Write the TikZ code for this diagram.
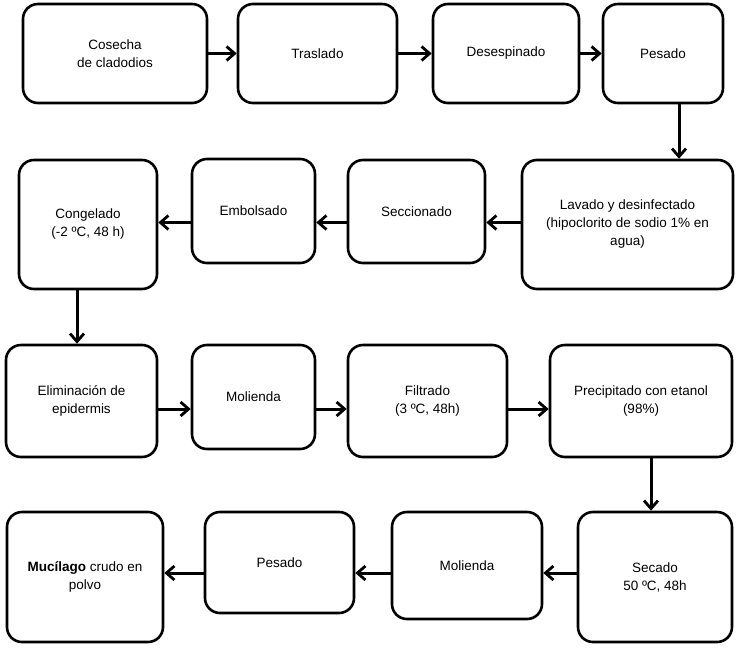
\documentclass[tikz,border=0pt]{standalone}
\usepackage{fontspec}
\setmainfont{Liberation Sans}
\usepackage{tikz}
\usetikzlibrary{arrows.meta,positioning,calc}

\begin{document}
\begin{tikzpicture}[
  x=1pt, y=-1pt,
  stepbox/.style={rectangle, draw=black, rounded corners=15pt, line width=2.6pt, align=center, inner sep=2pt, font=\fontsize{13.5}{18}\selectfont},
  flowarrow/.style={-{Straight Barb[length=8pt,width=14pt,line width=2.8pt]}, line width=3pt}
]
\useasboundingbox (0,0) rectangle (741,648);

% Row 1: left to right
\node[stepbox, minimum width=184pt, minimum height=99pt] (cosecha) at (115, 53.5) {Cosecha\\de cladodios};
\node[stepbox, minimum width=159pt, minimum height=99pt] (traslado) at (317.5, 53.5) {Traslado};
\node[stepbox, minimum width=146pt, minimum height=99pt] (desespinado) at (506, 53.5) {Desespinado};
\node[stepbox, minimum width=120pt, minimum height=99pt] (pesadoA) at (663, 53.5) {Pesado};

% Row 2: right to left
\node[stepbox, minimum width=211pt, minimum height=129pt] (lavado) at (627.5, 224.5) {Lavado y desinfectado\\(hipoclorito de sodio 1\% en\\agua)};
\node[stepbox, minimum width=137pt, minimum height=103pt] (seccionado) at (416.5, 211.5) {Seccionado};
\node[stepbox, minimum width=123pt, minimum height=104pt] (embolsado) at (253.5, 211) {Embolsado};
\node[stepbox, minimum width=138pt, minimum height=129pt] (congelado) at (88, 224.5) {Congelado\\(-2 ºC, 48 h)};

% Row 3: left to right
\node[stepbox, minimum width=151pt, minimum height=112pt] (eliminacion) at (81.5, 401) {Eliminación de\\epidermis};
\node[stepbox, minimum width=123pt, minimum height=104pt] (moliendaA) at (253.5, 397) {Molienda};
\node[stepbox, minimum width=159pt, minimum height=112pt] (filtrado) at (427.5, 401) {Filtrado\\(3 ºC, 48h)};
\node[stepbox, minimum width=182pt, minimum height=112pt] (precipitado) at (641, 401) {Precipitado con etanol\\(98\%)};

% Row 4: right to left
\node[stepbox, minimum width=154pt, minimum height=130pt] (secado) at (655, 577) {Secado\\50 ºC, 48h};
\node[stepbox, minimum width=150pt, minimum height=107pt] (moliendaB) at (467, 565.5) {Molienda};
\node[stepbox, minimum width=149pt, minimum height=101pt] (pesadoB) at (279.5, 562.5) {Pesado};
\node[stepbox, minimum width=156pt, minimum height=130pt] (mucilago) at (85, 577) {\textbf{Mucílago} crudo en\\polvo};

% Connectors row 1
\draw[flowarrow] (cosecha.east) -- (traslado.west);
\draw[flowarrow] (traslado.east) -- (desespinado.west);
\draw[flowarrow] (desespinado.east) -- (pesadoA.west);
\draw[flowarrow] ([xshift=16pt]pesadoA.south) -- ([xshift=16pt]pesadoA.south |- lavado.north);

% Connectors row 2
\draw[flowarrow] ([yshift=2pt]lavado.west) -- ([yshift=2pt]seccionado.east |- lavado.west);
\draw[flowarrow] ([yshift=2pt]seccionado.west |- lavado.west) -- ([yshift=2pt]embolsado.east |- lavado.west);
\draw[flowarrow] ([yshift=2pt]embolsado.west |- lavado.west) -- ([yshift=2pt]congelado.east);
\draw[flowarrow] ([xshift=-11pt]congelado.south) -- ([xshift=-11pt]congelado.south |- eliminacion.north);

% Connectors row 3
\draw[flowarrow] ([yshift=-8pt]eliminacion.east) -- ([yshift=-8pt]moliendaA.west |- eliminacion.east);
\draw[flowarrow] ([yshift=-8pt]moliendaA.east |- eliminacion.east) -- ([yshift=-8pt]filtrado.west);
\draw[flowarrow] ([yshift=-8pt]filtrado.east) -- ([yshift=-8pt]precipitado.west);
\draw[flowarrow] ([xshift=10pt]precipitado.south) -- ([xshift=10pt]precipitado.south |- secado.north);

% Connectors row 4
\draw[flowarrow] ([yshift=4pt]secado.west) -- ([yshift=4pt]moliendaB.east |- secado.west);
\draw[flowarrow] ([yshift=4pt]moliendaB.west |- secado.west) -- ([yshift=4pt]pesadoB.east |- secado.west);
\draw[flowarrow] ([yshift=4pt]pesadoB.west |- secado.west) -- ([yshift=4pt]mucilago.east);

\end{tikzpicture}
\end{document}
